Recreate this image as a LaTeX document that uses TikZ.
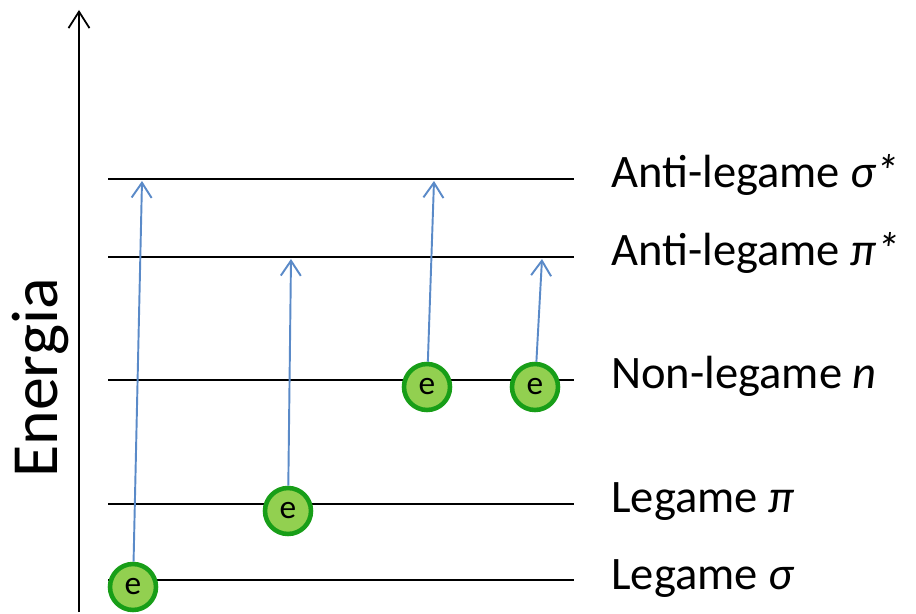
\documentclass[tikz,border=0pt]{standalone}
\usepackage{fontspec}
\setmainfont{Carlito}
\usetikzlibrary{arrows.meta}
\definecolor{jumpBlue}{RGB}{90,138,200}
\definecolor{elecGreen}{RGB}{146,208,80}
\definecolor{elecRim}{RGB}{24,158,24}

\begin{document}
\begin{tikzpicture}[x=0.02cm, y=-0.02cm,
    level/.style={line width=1.1pt},
    electron/.style={circle, draw=elecRim, fill=elecGreen, line width=2.6pt,
      minimum size=0.92cm, inner sep=0pt, font=\fontsize{19}{19}\selectfont},
    jump/.style={jumpBlue, line width=1.1pt, -{Straight Barb[length=0.3cm, width=0.4cm]}},
    lbl/.style={anchor=base west, inner sep=0pt, font=\fontsize{26.5}{30}\selectfont}]
  \useasboundingbox (0,0) rectangle (916,614);

  % energy axis
  \coordinate (axbot) at (79,612);
  \coordinate (axtop) at (79,10);
  \draw[line width=1pt, -{Straight Barb[length=0.33cm, width=0.42cm]}] (axbot) -- (axtop);
  \node[rotate=90, anchor=base, inner sep=0pt, font=\fontsize{37.5}{40}\selectfont] (energy) at (57,378) {Energia};

  % orbital levels
  \foreach \name/\y in {sigS/179, piS/257, n/380, pi/504, sig/580}
    \draw[level] (108,\y) coordinate (\name-l) -- (574,\y) coordinate (\name-r);

  \node[lbl] (lsigS) at (611,188) {Anti-legame \textit{σ*}};
  \node[lbl] (lpiS) at (611,266) {Anti-legame \textit{π*}};
  \node[lbl] (ln) at (611,389) {Non-legame \textit{n}};
  \node[lbl] (lpi) at (611,513) {Legame \textit{π}};
  \node[lbl] (lsig) at (611,589) {Legame \textit{σ}};

  % electrons and their transitions
  \node[electron] (e1) at (133,587) {e};
  \node[electron] (e2) at (288,511) {e};
  \node[electron] (e3) at (427,387) {e};
  \node[electron] (e4) at (535,387) {e};

  \coordinate (t1) at (142,181);
  \coordinate (t2) at (291,259);
  \coordinate (t3) at (434,181);
  \coordinate (t4) at (542,259);

  \draw[jump] (e1) -- (t1);
  \draw[jump] (e2) -- (t2);
  \draw[jump] (e3) -- (t3);
  \draw[jump] (e4) -- (t4);
\end{tikzpicture}
\end{document}
